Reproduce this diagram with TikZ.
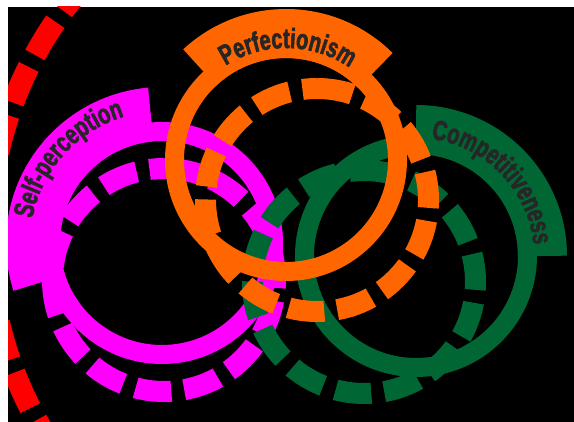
\documentclass[tikz,border=0pt]{standalone}
\usepackage{fontspec}
\newfontfamily\bannerfont[FakeStretch=0.71,FakeBold=2]{Liberation Sans}
\usetikzlibrary{decorations.text}
\definecolor{magx}{HTML}{FF00FF}
\definecolor{orgx}{HTML}{FF6600}
\definecolor{grnx}{HTML}{006633}
\definecolor{redx}{HTML}{FF0000}
\tikzset{
  ring/.style={line width=19pt},
  dashring/.style={line width=21pt,dash pattern=on 36pt off 13pt},
  banner/.style={line width=49pt},
  lbl/.style={decorate,decoration={text along path,text align=center,
    text color=black!85,
    text={|\bannerfont\bfseries\fontsize{28}{28}\selectfont|#1}}}
}
\begin{document}
\begin{tikzpicture}[x=1pt,y=1pt]
\useasboundingbox (0,0) rectangle (574,422);
\fill[white] (0,0) rectangle (574,422);
\fill[black] (8,0) rectangle (574,415);
\coordinate (redc) at (368,186);
\coordinate (selfc) at (162,179);
\coordinate (selfd) at (164,142);
\coordinate (perfc) at (286,262);
\coordinate (perfd) at (317,222);
\coordinate (compc) at (416,166);
\coordinate (compd) at (364,140);
\begin{scope}
\clip (8,0) rectangle (574,415);
% outer red circle, dashes run clockwise from the top
\draw[redx,line width=22pt,dash pattern=on 39pt off 13.5pt,dash phase=20pt]
  (redc) ++(90:379) arc[start angle=90,end angle=-270,radius=379];
% self-perception
\draw[magx,dashring] (selfd) ++(90:111.5) arc[start angle=90,end angle=-270,radius=111.5];
\draw[magx,ring] (selfc) circle[radius=111.5];
\draw[magx,banner,line width=54pt] (selfc) ++(198:129) arc[start angle=198,end angle=95,radius=129];
\path[lbl=Self-perception] (selfc) ++(190:132) arc[start angle=190,end angle=86,radius=132];
% competitiveness
\draw[grnx,dashring] (compd) ++(90:111.5) arc[start angle=90,end angle=-270,radius=111.5];
\draw[grnx,ring] (compc) circle[radius=111.5];
\draw[grnx,banner] (compc) ++(90:126.5) arc[start angle=90,end angle=0,radius=126.5];
\path[lbl=Competitiveness] (compc) ++(88:118) arc[start angle=88,end angle=0,radius=118];
% perfectionism
\draw[orgx,dashring] (perfd) ++(90:111.5) arc[start angle=90,end angle=-270,radius=111.5];
\draw[orgx,ring] (perfc) circle[radius=111.5];
\draw[orgx,banner] (perfc) ++(133:126.5) arc[start angle=133,end angle=45,radius=126.5];
\path[lbl=Perfectionism] (perfc) ++(133:112) arc[start angle=133,end angle=45,radius=112];
\end{scope}
\end{tikzpicture}
\end{document}
